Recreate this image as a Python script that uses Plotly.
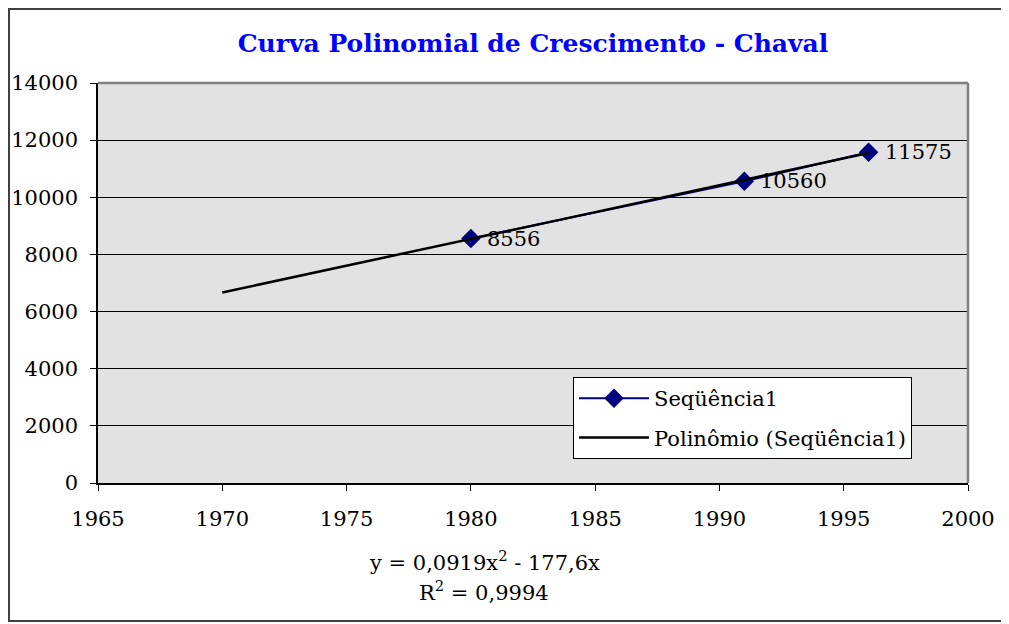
import plotly.graph_objects as go

# Data
years = [1980, 1991, 1996]
population = [8556, 10560, 11575]
trend_years = [1970, 1975, 1980, 1985, 1990, 1996]
trend_values = [6670, 7600, 8540, 9480, 10420, 11550]
x_ticks = [1965, 1970, 1975, 1980, 1985, 1990, 1995, 2000]
y_ticks = [0, 2000, 4000, 6000, 8000, 10000, 12000, 14000]
title_text = "Curva Polinomial de Crescimento - Chaval"
equation_lines = ["y = 0,0919x<sup>2</sup> - 177,6x", "R<sup>2</sup> = 0,9994"]

# page body has an 8px margin; compensate
OFF = 8
W, H = 1009 - OFF, 624 - OFF
L, R, T, B = 98 - OFF, 968 - OFF, 83 - OFF, 483 - OFF


def px(x):
    return (x - OFF - L) / (R - L)


def py(y):
    return (B - (y - OFF)) / (B - T)


FONT = "DejaVu Serif"
FS = 21

fig = go.Figure()
fig.add_trace(go.Scatter(
    x=years, y=population, mode="lines+markers",
    name="Seqüência1", legendgroup="serie",
    line=dict(color="#000080", width=2),
    marker=dict(symbol="diamond", size=15, color="#000080"),
))
fig.add_trace(go.Scatter(
    x=trend_years, y=trend_values, mode="lines",
    name="Polinômio (Seqüência1)", legendgroup="trend",
    line=dict(color="black", width=2.5),
))

annotations = [dict(text=str(v), x=xv, y=v, xref="x", yref="y", showarrow=False,
                    xanchor="left", yanchor="middle", xshift=14,
                    font=dict(family=FONT, size=FS, color="black"))
               for xv, v in zip(years, population)]
for line_text, ypix in zip(equation_lines, [561, 591]):
    annotations.append(dict(text=line_text, x=px(484), y=py(ypix),
                            xref="paper", yref="paper", showarrow=False,
                            xanchor="center", yanchor="middle", align="center",
                            font=dict(family=FONT, size=FS, color="black")))

shapes = [
    dict(type="line", xref="paper", yref="paper", x0=0, x1=1, y0=1, y1=1,
         line=dict(color="#808080", width=2.5)),
    dict(type="line", xref="paper", yref="paper", x0=1, x1=1, y0=0, y1=1,
         line=dict(color="#808080", width=2.5)),
    dict(type="rect", xref="paper", yref="paper",
         x0=px(9), x1=px(1007), y0=py(621), y1=py(9),
         line=dict(color="#404040", width=2), layer="above"),
]

fig.update_layout(
    width=W, height=H,
    margin=dict(l=L, r=W - R, t=T, b=H - B, autoexpand=False),
    paper_bgcolor="white",
    plot_bgcolor="#e2e2e2",
    showlegend=True,
    title=dict(text=title_text, x=(533 - OFF) / W, xanchor="center", xref="container",
               y=1 - (43 - OFF) / H, yref="container", yanchor="middle",
               font=dict(family=FONT, size=25, color="#0000ff", weight="bold")),
    xaxis=dict(range=[1965, 2000], tickvals=x_ticks, ticktext=[str(t) for t in x_ticks],
               showgrid=False, showline=True, linecolor="black", linewidth=1.5,
               ticks="outside", ticklen=6, tickcolor="black", ticklabelstandoff=10,
               automargin=False,
               tickfont=dict(family=FONT, size=FS, color="black"), zeroline=False),
    yaxis=dict(range=[0, 14000], tickvals=y_ticks, ticktext=[str(t) for t in y_ticks],
               showgrid=True, gridcolor="black", gridwidth=1,
               showline=True, linecolor="black", linewidth=1.5,
               ticks="outside", ticklen=6, tickcolor="black", ticklabelstandoff=8,
               automargin=False,
               tickfont=dict(family=FONT, size=FS, color="black"), zeroline=False),
    legend=dict(x=px(573), y=py(377), xanchor="left", yanchor="top",
                bgcolor="white", bordercolor="black", borderwidth=1,
                font=dict(family=FONT, size=FS, color="black"),
                itemwidth=70, tracegroupgap=9, traceorder="grouped"),
    shapes=shapes,
    annotations=annotations,
)

fig.write_html("out.html")
